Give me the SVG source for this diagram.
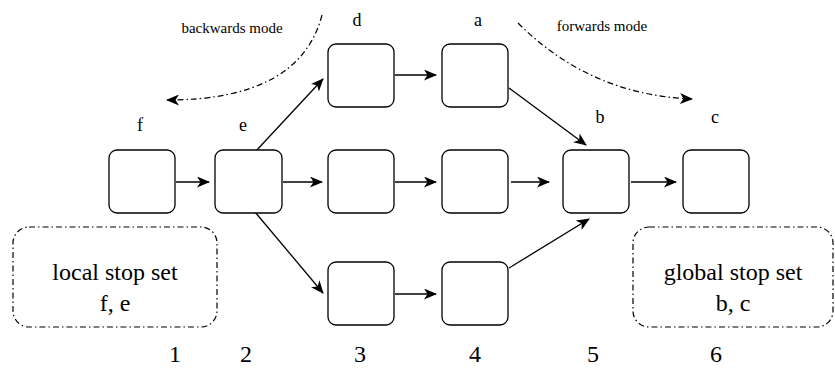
<svg xmlns="http://www.w3.org/2000/svg" width="835" height="371" viewBox="0 0 835 371">
<defs>
<style>
.n{fill:#fff;stroke:#000;stroke-width:1.3}
.t{fill:#000;text-anchor:middle}
.c{stroke:#000;stroke-width:1.3;fill:none}
.dd{stroke:#000;stroke-width:1.2;fill:none;stroke-dasharray:6 3 1.5 3}
</style>
<marker id="a" markerWidth="13" markerHeight="11" refX="12" refY="5.5" orient="auto" markerUnits="userSpaceOnUse"><path d="M0,0 L13,5.5 L0,11 L3.5,5.5 Z" fill="#000"/></marker>
</defs>
<rect width="835" height="371" fill="#fff"/>
<g id="connectors">
<line class="c" x1="176" y1="182" x2="209" y2="182" marker-end="url(#a)"/>
<line class="c" x1="283" y1="182" x2="322" y2="182" marker-end="url(#a)"/>
<line class="c" x1="395" y1="182" x2="436" y2="182" marker-end="url(#a)"/>
<line class="c" x1="511" y1="182" x2="549" y2="182" marker-end="url(#a)"/>
<line class="c" x1="631" y1="182" x2="676" y2="182" marker-end="url(#a)"/>
<line class="c" x1="395" y1="75" x2="436" y2="75" marker-end="url(#a)"/>
<line class="c" x1="395" y1="294" x2="436" y2="294" marker-end="url(#a)"/>
<line class="c" x1="255" y1="152" x2="323" y2="79" marker-end="url(#a)"/>
<line class="c" x1="255" y1="212" x2="323" y2="293" marker-end="url(#a)"/>
<line class="c" x1="509" y1="88" x2="586" y2="145" marker-end="url(#a)"/>
<line class="c" x1="509" y1="268" x2="589" y2="219" marker-end="url(#a)"/>
<path class="dd" d="M322,15 Q300,100 167,100" marker-end="url(#a)"/>
<path class="dd" d="M518,23 Q590,95 692,99" marker-end="url(#a)"/>
</g>
<g font-family="Liberation Serif, DejaVu Serif, serif">
<g id="n1"><rect class="n" x="109" y="150" width="66" height="63" rx="8"/><text class="t" x="140" y="131" font-size="18">f</text></g>
<g id="n2"><rect class="n" x="215" y="150" width="67" height="63" rx="8"/><text class="t" x="243" y="131" font-size="18">e</text></g>
<g id="n3"><rect class="n" x="328" y="150" width="66" height="63" rx="8"/></g>
<g id="n4"><rect class="n" x="442" y="150" width="66" height="63" rx="8"/></g>
<g id="n5"><rect class="n" x="563" y="150" width="66" height="63" rx="8"/><text class="t" x="600" y="123" font-size="18">b</text></g>
<g id="n6"><rect class="n" x="683" y="150" width="66" height="63" rx="8"/><text class="t" x="715" y="123" font-size="18">c</text></g>
<g id="n3top"><rect class="n" x="328" y="44" width="66" height="63" rx="8"/><text class="t" x="357" y="26" font-size="18">d</text></g>
<g id="n4top"><rect class="n" x="442" y="44" width="66" height="63" rx="8"/><text class="t" x="478" y="26" font-size="18">a</text></g>
<g id="n3bot"><rect class="n" x="328" y="262" width="66" height="63" rx="8"/></g>
<g id="n4bot"><rect class="n" x="442" y="262" width="66" height="63" rx="8"/></g>
<g id="local"><rect class="dd" x="13" y="227" width="204" height="100" rx="16"/><text class="t" x="115" y="280" font-size="24">local stop set</text><text class="t" x="115" y="311" font-size="24">f, e</text></g>
<g id="global"><rect class="dd" x="633" y="227" width="200" height="100" rx="16"/><text class="t" x="733" y="280" font-size="24">global stop set</text><text class="t" x="733" y="311" font-size="24">b, c</text></g>
<g id="labels">
<text class="t" x="232" y="33" font-size="15">backwards mode</text>
<text class="t" x="602" y="31" font-size="15">forwards mode</text>
<text class="t" x="175" y="362" font-size="24">1</text>
<text class="t" x="246" y="362" font-size="24">2</text>
<text class="t" x="360" y="362" font-size="24">3</text>
<text class="t" x="475" y="362" font-size="24">4</text>
<text class="t" x="593" y="362" font-size="24">5</text>
<text class="t" x="716" y="362" font-size="24">6</text>
</g>
</g>
</svg>
